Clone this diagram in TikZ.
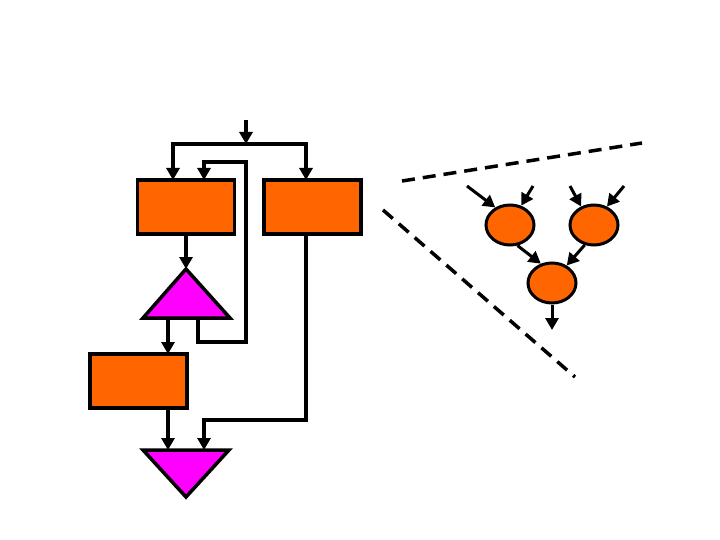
\documentclass[tikz,border=0pt]{standalone}
\usetikzlibrary{arrows.meta,calc,shapes.geometric}
\definecolor{boxorange}{HTML}{FF6600}
\definecolor{trimag}{HTML}{FF00FF}
\tikzset{
  blk/.style={draw=black, line width=3.5pt, fill=boxorange, minimum width=97pt, minimum height=54pt, inner sep=0pt},
  ell/.style={draw=black, line width=3pt, fill=boxorange, ellipse, minimum width=48pt, minimum height=40pt, inner sep=0pt},
  tri/.style={draw=black, line width=3.5pt, fill=trimag, line join=miter},
  wire/.style={line width=3.5pt, line join=miter},
  arr/.style={wire, -{Triangle[length=12pt,width=13pt]}},
  dashln/.style={line width=3.5pt, dash pattern=on 13pt off 8pt}
}
\begin{document}
\begin{tikzpicture}[x=1pt,y=-1pt]
\useasboundingbox (0,0) rectangle (720,540);
% boxes
\node[blk] (b1) at (186,207) {};
\node[blk] (b2) at (312.5,207) {};
\node[blk] (b3) at (138.5,381) {};
% triangles
\coordinate (t1top) at (186,269);
\coordinate (t1l) at (143,318);
\coordinate (t1r) at (230,318);
\draw[tri] (t1top) -- (t1r) -- (t1l) -- cycle;
\coordinate (t2l) at (143,450);
\coordinate (t2r) at (229,450);
\coordinate (t2bot) at (186,497);
\draw[tri] (t2l) -- (t2r) -- (t2bot) -- cycle;
% input
\coordinate (in) at (246,120);
\coordinate (split) at (246,144);
\draw[arr] (in) -- (split);
\draw[arr] (240,144) -- (173,144) -- (173,180);
\draw[arr] (240,144) -- (306,144) -- (306,180);
% b1 to t1
\draw[arr] (b1.south) -- (t1top);
% t1 to b3
\draw[arr] (168,318) -- (168,354);
% feedback
\draw[arr] (198,318) -- (198,342) -- (246,342) -- (246,162) -- (204,162) -- (204,180);
% b3 to t2
\draw[arr] (168,408) -- (168,450);
% b2 to t2
\draw[arr] (306,234) -- (306,420) -- (204,420) -- (204,450);
% right side
\draw[dashln] (402,181) -- (642,143);
\draw[dashln] (383,210) -- (575,377);
\node[ell] (c1) at (510,225) {};
\node[ell] (c2) at (594,225) {};
\node[ell] (c3) at (552,283) {};
\coordinate (i1) at (467,186);
\coordinate (i2) at (533,186);
\coordinate (i3) at (570,186);
\coordinate (i4) at (624,186);
\coordinate (out) at (552,330);
\draw[arr, line width=3pt] (i1) -- (c1.130);
\draw[arr, line width=3pt] (i2) -- (c1.60);
\draw[arr, line width=3pt] (i3) -- (c2.125);
\draw[arr, line width=3pt] (i4) -- (c2.55);
\draw[arr, line width=3pt] (c1.-70) -- (c3.120);
\draw[arr, line width=3pt] (c2.-115) -- (c3.50);
\draw[arr, line width=3pt] (c3.south) -- (out);
\end{tikzpicture}
\end{document}
